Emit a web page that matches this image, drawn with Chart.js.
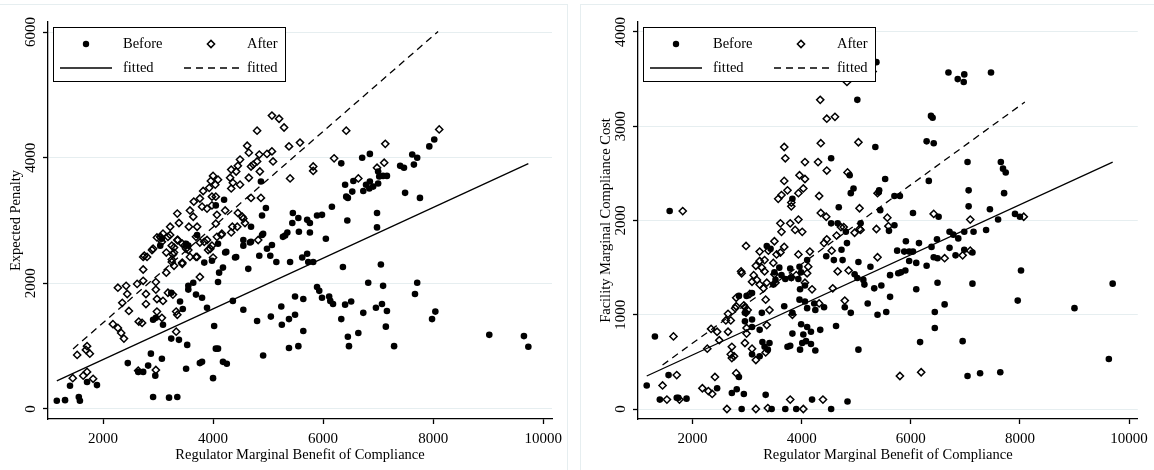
<!DOCTYPE html>
<html>
<head>
<meta charset="utf-8">
<title>Penalty and compliance cost vs regulator benefit</title>
<script src="https://cdn.jsdelivr.net/npm/chart.js@4.4.0/dist/chart.umd.min.js"></script>
<style>
    body { margin: 0; background: #fff; width: 1154px; height: 470px; overflow: hidden; position: relative; }
    .frame { position: absolute; top: 4px; height: 480px; border: 1px solid #e6eef0; }
    #frame-left { left: -1px; width: 567px; }
    #frame-right { left: 580px; width: 600px; }
    canvas { position: absolute; top: 0; }
    #penalty-chart { left: 0; }
    #cost-chart { left: 576px; }
</style>
</head>
<body>
<div class="frame" id="frame-left"></div>
<div class="frame" id="frame-right"></div>
<canvas id="penalty-chart" width="576" height="470"></canvas>
<canvas id="cost-chart" width="578" height="470"></canvas>

<script>
// ---- data ([x, y] pairs) ----
const xTicks = [2000, 4000, 6000, 8000, 10000];
const penaltyTicks = [0, 2000, 4000, 6000];
const costTicks = [0, 1000, 2000, 3000, 4000];

const penaltyBefore = [
    [1160,130],[1310,140],[1560,190],[1580,130],[1400,370],[1710,430],[1890,380],[2450,730],[2640,590],[2730,590],
    [2820,690],[2870,880],[2950,530],[2910,190],[3070,800],[3200,180],[3350,190],[3240,1120],[3380,1100],[3090,1340],
    [3530,1020],[3510,640],[3760,730],[3800,750],[4000,490],[4020,1320],[4050,960],[4090,960],[4180,750],[4250,720],
    [3890,1610],[4360,1720],[4550,1580],[4800,1400],[4910,850],[5050,1470],[5240,1630],[5380,1430],[5490,1500],[5380,970],
    [5550,1000],[3690,1820],[3800,1770],[2910,1420],[2960,1450],[3240,1850],[3450,1590],[3400,1710],[3550,1900],[3550,1960],
    [3640,2010],[3840,2330],[3980,2360],[4090,2020],[4110,2170],[4180,2250],[4220,2490],[4400,2410],[4640,2230],[4690,2660],
    [4890,2770],[4550,2690],[4550,2600],[4670,2650],[4870,3620],[4960,3200],[4890,3080],[4690,2900],[4910,2790],[4980,2550],
    [5070,2610],[4840,2440],[5040,2440],[5150,2340],[4420,2420],[4240,2500],[4090,2630],[3710,2770],[4200,3330],[4050,3240],
    [3550,2600],[5450,3120],[5550,3040],[5440,2960],[5710,3010],[5760,2960],[5890,3080],[5980,3090],[5560,2820],[5760,2810],
    [5310,2760],[5350,2810],[5620,2410],[5730,2340],[5820,2340],[5400,2340],[6050,2710],[6160,3220],[6330,3910],[6400,3570],
    [6420,3380],[6450,3360],[6440,3000],[6360,2260],[3070,2710],[3040,2600],[3510,2630],[6710,4000],[6850,4060],[6550,3630],
    [6530,3460],[6730,3470],[6780,3570],[6850,3620],[6840,3510],[6910,3540],[7000,3780],[7020,3700],[7090,3710],[7160,3710],
    [7000,3590],[6980,3120],[6980,2890],[7400,3870],[7470,3840],[7490,3440],[7620,4050],[7710,4000],[7650,3890],[7760,3360],
    [7930,4180],[8020,4290],[5270,2740],[5710,2470],[5890,1940],[5930,1880],[5980,1770],[5490,1790],[5640,1750],[5250,1340],
    [5640,1240],[6110,1790],[6130,1720],[6180,1670],[6330,1430],[6400,1660],[6510,1710],[6450,1150],[6470,1000],[6640,1210],
    [6730,1530],[6820,2010],[6960,1610],[7050,2300],[7090,1960],[7070,1670],[7160,1560],[7140,1310],[7290,1000],[7670,1830],
    [7710,2010],[7980,1430],[8040,1550],[9020,1180],[9650,1160],[9730,990]
];

const penaltyAfter = [
    [1530,860],[1710,1000],[1690,940],[1760,880],[1450,490],[1640,530],[1710,590],[1820,480],[2180,1350],[2270,1290],
    [2330,1210],[2380,1120],[2270,1930],[2420,1960],[2440,1830],[2350,1690],[2470,1560],[2620,1990],[2650,1390],[2710,1370],
    [2730,2040],[2780,1830],[2780,1670],[2800,2420],[2750,2440],[2730,2220],[2890,2530],[2960,2020],[2960,1900],[2980,1750],
    [2980,1550],[3090,1720],[3070,1450],[3040,2740],[3070,2660],[3150,2170],[3180,1850],[3220,2770],[3250,2600],[3270,1820],
    [3290,2490],[3250,2340],[3350,2690],[3350,1500],[3440,2330],[3490,2610],[3550,2530],[3330,1230],[3330,1550],[3690,2420],
    [3760,2100],[3840,2660],[3980,2600],[3910,2530],[4150,2770],[4330,2810],[4820,2690],[2640,610],[2960,620],[5070,4670],
    [5200,4620],[5290,4480],[4800,4430],[4620,4190],[4650,4080],[4840,4050],[4980,4060],[5070,4100],[5090,3940],[5380,4180],
    [5580,4240],[5400,3670],[4490,3970],[4450,3870],[4690,3860],[4730,3890],[4800,3940],[4850,3780],[4330,3810],[4420,3780],
    [4360,3600],[4490,3570],[4330,3510],[4650,3680],[4690,3360],[4870,3360],[4000,3710],[3960,3630],[4090,3650],[3930,3520],
    [3820,3470],[4040,3570],[3980,3380],[4050,3380],[3760,3350],[3650,3300],[3800,3220],[3890,3190],[3980,3240],[4070,3090],
    [4220,3160],[4450,3120],[4530,3060],[4580,2960],[4350,2900],[4440,2900],[4050,2950],[4160,2790],[4070,2740],[3580,3160],
    [3640,3060],[3350,3110],[3380,2960],[3560,2900],[3710,2900],[3220,2900],[3090,2790],[3050,2730],[3180,2740],[2980,2730],
    [3360,2690],[3290,2570],[3440,2630],[3510,2550],[3690,2740],[3760,2650],[3890,2690],[3950,2550],[4000,2410],[3710,2420],
    [3580,2420],[3270,2460],[3250,2380],[3440,2310],[3290,2280],[3150,2490],[2910,2550],[2730,2420],[5820,3860],[5820,3790],
    [6200,3990],[6420,4430],[6640,3670],[6980,3840],[7130,4220],[7110,3920],[8110,4450],[4550,3030],[4310,3680]
];

const costBefore = [
    [1160,250],[1310,770],[1560,360],[1400,100],[1710,120],[1740,120],[1890,110],[2450,220],[2720,170],[2810,210],
    [2850,340],[2940,160],[2900,0],[3340,150],[3450,0],[3700,0],[4190,100],[4540,0],[4840,80],[2850,1200],
    [2990,1200],[2960,1020],[2960,930],[3090,950],[3090,580],[3230,560],[3280,710],[3320,660],[3380,630],[3230,840],
    [3270,1020],[3360,1730],[3430,1700],[3500,1450],[3480,1320],[3520,1370],[3630,1420],[3700,1380],[3790,1490],[3810,1390],
    [3680,1090],[3830,1020],[3740,660],[3790,670],[3990,900],[3830,800],[3970,630],[4030,790],[4080,720],[4170,820],
    [4170,690],[4250,620],[4340,840],[4630,880],[3960,1160],[4060,1140],[4230,1120],[4410,1080],[3970,1270],[4060,1310],
    [4100,1580],[3990,1450],[4680,2140],[4540,1970],[4660,1970],[4810,1880],[5080,1970],[4750,1580],[4450,1620],[5040,1560],
    [4970,1430],[5020,1390],[5130,1370],[5150,1320],[5260,1510],[5330,1280],[5460,1310],[4790,1080],[4900,1020],[5210,1120],
    [5390,1000],[5550,1030],[5620,1190],[5040,630],[5440,2110],[5600,1890],[5700,1950],[6040,2080],[5750,1680],[5620,1420],
    [5770,1440],[5820,1450],[5900,1470],[5910,1780],[5880,1670],[5970,1670],[6040,1670],[5970,1570],[6100,1550],[6150,1760],
    [6100,1270],[6170,710],[6290,1520],[6380,1720],[6420,1610],[6440,1030],[6440,860],[6490,1600],[6480,1800],[6490,1340],
    [6620,1110],[6710,1710],[6820,1630],[6980,1690],[7130,1660],[7130,1330],[6950,720],[7040,350],[7270,380],[7640,390],
    [7960,1150],[8020,1470],[9000,1070],[9630,530],[9700,1330],[6710,1880],[6780,1850],[6870,1810],[6980,1880],[7150,1880],
    [7380,1900],[5370,3680],[6690,3570],[6860,3500],[6970,3470],[6980,3550],[7470,3570],[5020,3280],[6370,3110],[6400,3090],
    [6290,2840],[6420,2820],[5350,2780],[7040,2620],[7650,2620],[7690,2550],[7740,2510],[6330,2420],[5530,2440],[5420,2320],
    [7060,2320],[7710,2290],[5700,2260],[5800,2260],[7060,2150],[7450,2120],[6510,2040],[7600,2010],[7910,2070],[8000,2040],
    [4540,2660],[4880,2480],[4900,2290],[4950,2340],[5410,2300],[3830,2230],[1580,2100],[3090,1230],[3090,870],[3410,700],
    [3900,0],[3590,1500],[3960,1510],[3940,1380],[4100,1070],[4250,1050],[4010,700],[4100,870],[4590,1580],[4730,1690],
    [4830,1760]
];

const costAfter = [
    [1820,2100],[1650,770],[1450,250],[1710,360],[1530,100],[1760,100],[2180,220],[2290,190],[2360,160],[2410,340],
    [2800,380],[2630,0],[3160,0],[3380,10],[3790,100],[4030,0],[4390,100],[2270,640],[2340,850],[2450,820],
    [2490,730],[2650,1010],[2610,940],[2700,940],[2650,820],[2720,660],[2700,580],[2760,560],[2800,1180],[2800,1090],
    [2890,1460],[2980,1730],[2960,1080],[2980,1020],[3010,1050],[2990,860],[2990,800],[2960,700],[3090,640],[3160,520],
    [3340,600],[3360,890],[3410,1050],[3340,1160],[3050,1220],[3090,1350],[3120,1420],[3160,1520],[3230,1570],[3270,1500],
    [3230,1670],[3320,1580],[3390,1680],[3500,1780],[3540,1640],[3610,1660],[3680,1720],[3480,1550],[3320,1460],[3230,1320],
    [3300,1280],[3360,1340],[3520,1340],[3500,1430],[3610,1970],[3790,1970],[3630,1880],[3880,1900],[4010,1880],[3940,2010],
    [3810,2150],[3940,1640],[4150,1670],[3810,1400],[3900,1420],[4100,1440],[4060,1340],[4190,1270],[4120,1510],[4320,1120],
    [3830,1000],[4350,2080],[4450,2040],[4460,1800],[4410,1760],[4550,1680],[4660,1460],[4790,1150],[4860,1470],[4570,1280],
    [4720,1930],[4640,1840],[4770,1930],[5060,2130],[4970,1870],[5080,1900],[5370,1910],[5570,2030],[5590,1940],[5390,1610],
    [5800,350],[6190,390],[6420,2070],[4340,3280],[4460,3080],[4610,3100],[3680,2780],[3700,2660],[4350,2820],[5040,2830],
    [4060,2620],[4300,2620],[4460,2530],[4840,2510],[3960,2480],[4060,2440],[3680,2420],[3740,2320],[3630,2270],[3570,2230],
    [3940,2290],[4030,2340],[4320,2260],[3810,2190],[5390,2290],[4830,3470],[5300,3580],[5060,1910],[7090,2010],[8070,2040],
    [6620,1600],[6950,1630],[7090,1680],[2900,1440],[3180,1370],[2780,1070],[2940,1100],[2720,540]
];

// fitted lines, end points as drawn
const penaltyFitBefore = [[1160,446],[9730,3904]];
const penaltyFitAfter = [[1455,956],[8090,6010]];
const costFitBefore = [[1160,350],[9700,2620]];
const costFitAfter = [[1450,467],[8090,3257]];

// ---- chart setup ----
const SERIF = '"Liberation Serif", "Times New Roman", serif';
Chart.defaults.font.family = SERIF;
Chart.defaults.font.size = 14.5;
Chart.defaults.color = '#000';

const toPts = arr => arr.map(([x, y]) => ({ x, y }));
const fixedTicks = vals => scale => { scale.ticks = vals.map(v => ({ value: v })); };

// Stata style legend box in the upper left of the plot region
const legendBox = {
    id: 'legendBox',
    afterDraw(chart) {
        const { ctx, chartArea: a } = chart;
        const x0 = a.left + 5, y0 = a.top + 5;
        const r1 = y0 + 17, r2 = y0 + 41;
        ctx.save();
        ctx.fillStyle = '#fff';
        ctx.fillRect(x0, y0, 232, 54);
        ctx.strokeStyle = '#000';
        ctx.lineWidth = 1;
        ctx.strokeRect(x0 + 0.5, y0 + 0.5, 232, 54);

        // markers
        ctx.fillStyle = '#000';
        Chart.helpers.drawPoint(ctx, { pointStyle: 'circle', radius: 3.2, borderWidth: 0 }, x0 + 33, r1);
        ctx.fillStyle = 'rgba(0,0,0,0)';
        ctx.lineWidth = 1.5;
        Chart.helpers.drawPoint(ctx, { pointStyle: 'rectRot', radius: 3.6, borderWidth: 1.5 }, x0 + 158, r1);

        // line keys
        ctx.lineWidth = 1.3;
        ctx.beginPath();
        ctx.moveTo(x0 + 7, r2); ctx.lineTo(x0 + 59, r2);
        ctx.stroke();
        ctx.setLineDash([7, 5]);
        ctx.beginPath();
        ctx.moveTo(x0 + 131, r2); ctx.lineTo(x0 + 186, r2);
        ctx.stroke();
        ctx.setLineDash([]);

        ctx.fillStyle = '#000';
        ctx.font = '14.5px ' + SERIF;
        ctx.textBaseline = 'middle';
        ctx.textAlign = 'left';
        ctx.fillText('Before', x0 + 70, r1);
        ctx.fillText('After', x0 + 194, r1);
        ctx.fillText('fitted', x0 + 70, r2);
        ctx.fillText('fitted', x0 + 194, r2);
        ctx.restore();
    }
};

function buildChart(id, cfg) {
    return new Chart(document.getElementById(id), {
        type: 'scatter',
        data: {
            datasets: [
                {
                    data: toPts(cfg.before),
                    pointStyle: 'circle',
                    pointRadius: 3.3,
                    pointBackgroundColor: '#000',
                    pointBorderWidth: 0
                },
                {
                    data: toPts(cfg.after),
                    pointStyle: 'rectRot',
                    pointRadius: 3.6,
                    pointBackgroundColor: 'rgba(0,0,0,0)',
                    pointBorderColor: '#000',
                    pointBorderWidth: 1.5
                },
                {
                    data: toPts(cfg.fitBefore),
                    showLine: true,
                    pointRadius: 0,
                    borderColor: '#000',
                    borderWidth: 1.3
                },
                {
                    data: toPts(cfg.fitAfter),
                    showLine: true,
                    pointRadius: 0,
                    borderColor: '#000',
                    borderWidth: 1.3,
                    borderDash: [7, 5]
                }
            ]
        },
        options: {
            responsive: false,
            animation: false,
            layout: { padding: { left: cfg.padLeft, right: cfg.padRight, top: 22, bottom: 0 } },
            plugins: { legend: { display: false }, tooltip: { enabled: false } },
            scales: {
                x: {
                    type: 'linear',
                    min: 1000,
                    max: 10160,
                    afterBuildTicks: fixedTicks(xTicks),
                    afterFit: s => { s.height = 51; },
                    grid: { drawOnChartArea: false, tickLength: 5, tickColor: '#000', tickWidth: 1.3 },
                    border: { color: '#000', width: 1.3 },
                    ticks: { padding: 6, maxRotation: 0, font: { size: 15 }, callback: v => String(v) },
                    title: { display: true, text: 'Regulator Marginal Benefit of Compliance', padding: { top: 0, bottom: 6 } }
                },
                y: {
                    type: 'linear',
                    min: cfg.yMin,
                    max: cfg.yMax,
                    afterBuildTicks: fixedTicks(cfg.yTicks),
                    afterFit: s => { s.width = 48; },
                    grid: { color: '#e6eef0', lineWidth: 1, tickLength: 5, tickColor: '#000', tickWidth: 1.3 },
                    border: { color: '#000', width: 1.3 },
                    ticks: { minRotation: 90, maxRotation: 90, crossAlign: 'center', padding: -3, font: { size: 15 }, callback: v => String(v) },
                    title: { display: true, text: cfg.yTitle, padding: { top: 7, bottom: 0 } }
                }
            }
        },
        plugins: [legendBox]
    });
}

buildChart('penalty-chart', {
    before: penaltyBefore, after: penaltyAfter,
    fitBefore: penaltyFitBefore, fitAfter: penaltyFitAfter,
    yTicks: penaltyTicks, yMin: -160, yMax: 6160,
    yTitle: 'Expected Penalty',
    padLeft: 0, padRight: 24
});

buildChart('cost-chart', {
    before: costBefore, after: costAfter,
    fitBefore: costFitBefore, fitAfter: costFitAfter,
    yTicks: costTicks, yMin: -106, yMax: 4106,
    yTitle: 'Facility Marginal Compliance Cost',
    padLeft: 14, padRight: 12
});
</script>
</body>
</html>
